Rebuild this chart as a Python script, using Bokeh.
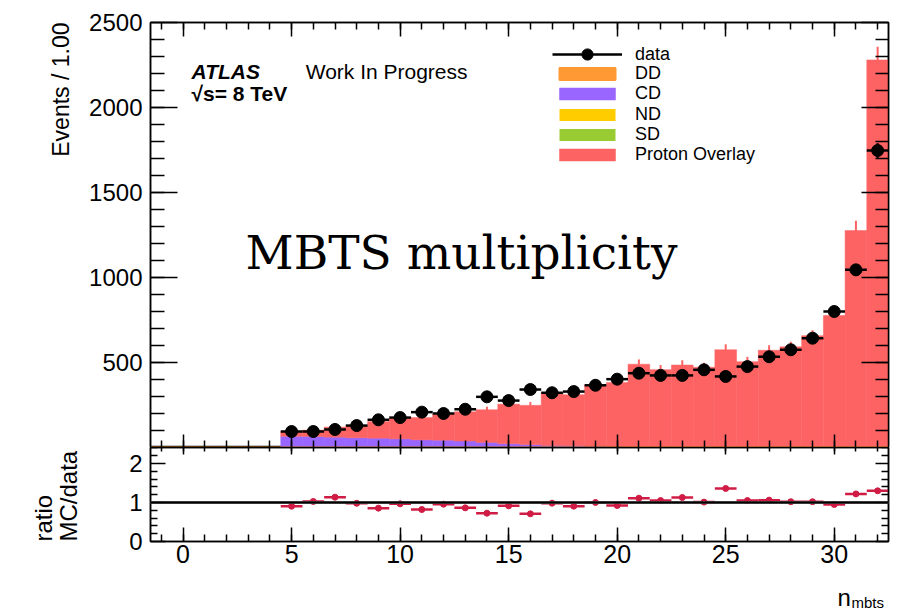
import numpy as np
from bokeh.plotting import figure
from bokeh.models import (Range1d, LinearAxis, FixedTicker, CustomJSTickFormatter,
                          Label, Legend, LegendItem, Span, BoxAnnotation, ColumnDataSource)
from bokeh.layouts import column, row
from bokeh.embed import file_html
from bokeh.resources import INLINE

# ---------------- data ----------------
bins = [5, 6, 7, 8, 9, 10, 11, 12, 13, 14, 15, 16, 17, 18, 19, 20,
        21, 22, 23, 24, 25, 26, 27, 28, 29, 30, 31, 32]
data_counts = [94, 94, 106, 129, 163, 176, 208, 200, 225, 298, 276, 341, 322, 329, 366, 402,
               437, 424, 424, 457, 418, 476, 534, 575, 643, 800, 1045, 1747]
data_err = [10, 10, 10, 11, 13, 13, 14, 14, 15, 17, 17, 18, 18, 18, 19, 20,
            21, 21, 21, 21, 20, 22, 23, 24, 25, 28, 32, 42]
mc_total = [96, 102, 120, 130, 152, 172, 176, 195, 210, 222, 255, 248, 322, 310, 368, 382,
            490, 458, 485, 472, 575, 505, 572, 592, 658, 776, 1276, 2280]
mc_err = [12, 12, 13, 14, 15, 16, 16, 17, 18, 18, 20, 20, 22, 22, 24, 24,
          28, 27, 28, 27, 32, 28, 30, 30, 32, 35, 58, 78]
cd_counts = [66, 65, 61, 57, 55, 51, 45, 43, 38, 30, 22, 17, 12, 10, 7, 5,
             3, 2, 2, 1, 1, 1, 0, 0, 0, 0, 0, 0]
ratio_vals = [0.905, 1.026, 1.136, 0.98, 0.855, 0.966, 0.82, 0.957, 0.863, 0.726, 0.915, 0.709,
              0.983, 0.906, 1.0, 0.923, 1.11, 1.05, 1.128, 1.01, 1.36, 1.05, 1.06, 1.02,
              1.02, 0.95, 1.22, 1.30]
ratio_err = [0.05, 0.05, 0.05, 0.05, 0.05, 0.04, 0.04, 0.04, 0.04, 0.04, 0.04, 0.04,
             0.03, 0.03, 0.03, 0.03, 0.03, 0.03, 0.03, 0.03, 0.04, 0.03, 0.03, 0.03,
             0.03, 0.02, 0.02, 0.02]
all_bins = [-1, 0, 1, 2, 3, 4, 5, 6, 7, 8, 9, 10, 11, 12, 13, 14, 15, 16, 17,
            18, 19, 20, 21, 22, 23, 24, 25, 26, 27, 28, 29, 30, 31, 32]
dd_counts = [0, 0, 0, 0, 0, 0, 0, 0, 0, 0, 0, 0, 0, 0, 0, 0, 0, 0, 0,
             0, 0, 0, 0, 0, 0, 0, 0, 0, 0, 0, 0, 0, 0, 0]
nd_counts = dd_counts
sd_counts = dd_counts

x_ticks = [0, 5, 10, 15, 20, 25, 30]
x_minor = list(range(-1, 33))
main_y_ticks = [500, 1000, 1500, 2000, 2500]
main_y_minor = list(range(100, 2500, 100))
ratio_y_ticks = [0, 1, 2]
ratio_y_minor = [0.2, 0.4, 0.6, 0.8, 1.2, 1.4, 1.6, 1.8, 2.2, 2.4]

legend_labels = ["data", "DD", "CD", "ND", "SD", "Proton Overlay"]

C_DD = "#ff9933"
C_CD = "#9966ff"
C_ND = "#ffcc00"
C_SD = "#99cc33"
C_PO = "#fd6363"
C_RATIO = "#d01c45"

FONT = "Liberation Sans"
LEFT_W = 86          # width of the strip holding the y-axis titles
AXIS_W = 64          # border left of each frame for the tick labels
FRAME_W = 738
RIGHT_W = 11
MAIN_TOP = 22
MAIN_H = 425
RATIO_H = 94
RATIO_BOTTOM = 36
BOTTOM_STRIP = 611 - (MAIN_TOP + MAIN_H + RATIO_H + RATIO_BOTTOM)
FRAME_X0 = LEFT_W + AXIS_W
RATIO_Y0 = MAIN_TOP + MAIN_H
LEGEND_X = 402                     # legend left edge, px from frame left
LEGEND_ROW_CENTERS = [54, 74.2, 94.4, 114.6, 134.8, 155]   # page px
LEGEND_FONT = 18
MID = 0.3465                       # baseline sits this many em below a "middle" anchor

# ---------------- sources ----------------
b = np.array(bins, dtype=float)
src = ColumnDataSource(dict(
    x=b, left=b - 0.5, right=b + 0.5,
    data=data_counts, dlo=np.array(data_counts) - np.array(data_err),
    dhi=np.array(data_counts) + np.array(data_err),
    cd=cd_counts, mc=mc_total,
    mlo=np.array(mc_total) - np.array(mc_err), mhi=np.array(mc_total) + np.array(mc_err),
    r=ratio_vals, rlo=np.array(ratio_vals) - np.array(ratio_err),
    rhi=np.array(ratio_vals) + np.array(ratio_err),
))
ab = np.array(all_bins, dtype=float)
zsrc = ColumnDataSource(dict(left=ab - 0.5, right=ab + 0.5, dd=dd_counts, nd=nd_counts, sd=sd_counts))

x_range = Range1d(-1.5, 32.5)
y_main = Range1d(0, 2500)


def px_to_main_y(py):
    """page pixel row -> main-panel data value"""
    return (RATIO_Y0 - py) * (y_main.end - y_main.start) / MAIN_H


def style_axis(ax, ticks, minor, major_in, minor_in, labels=True, size="25px", standoff=6):
    ax.ticker = FixedTicker(ticks=ticks, minor_ticks=minor)
    ax.major_tick_in = major_in
    ax.major_tick_out = 0
    ax.minor_tick_in = minor_in
    ax.minor_tick_out = 0
    ax.major_tick_line_width = 1.5
    ax.minor_tick_line_width = 1.5
    ax.major_tick_line_color = "black"
    ax.minor_tick_line_color = "black"
    ax.axis_line_width = 1.5
    ax.axis_line_color = "black"
    if labels:
        ax.major_label_text_font = FONT
        ax.major_label_text_font_size = size
        ax.major_label_text_color = "black"
        ax.major_label_standoff = standoff
    else:
        ax.formatter = CustomJSTickFormatter(code="return ''")
        ax.major_label_text_font_size = "0px"
        ax.major_label_standoff = 0


def text_strip(fw, fh, x0, y0, bl=0, br=0, bt=0, bb=0):
    """An axis-less figure whose frame coordinates equal page pixels."""
    f = figure(frame_width=fw, frame_height=fh, x_range=Range1d(x0, x0 + fw),
               y_range=Range1d(y0 + fh, y0), output_backend="svg", toolbar_location=None,
               title=None, x_axis_location=None, y_axis_location=None,
               min_border_left=bl, min_border_right=br, min_border_top=bt, min_border_bottom=bb,
               outline_line_color=None, background_fill_color="white", border_fill_color="white")
    f.grid.visible = False
    return f


# ---------------- main panel ----------------
p = figure(frame_width=FRAME_W, frame_height=MAIN_H, x_range=x_range, y_range=y_main,
           output_backend="svg", toolbar_location=None, title=None,
           min_border_left=AXIS_W, min_border_right=RIGHT_W, min_border_top=MAIN_TOP,
           min_border_bottom=0,
           outline_line_color="black", outline_line_width=1.5,
           background_fill_color="white", border_fill_color="white")
p.grid.visible = False

style_axis(p.yaxis[0], main_y_ticks, main_y_minor, 27, 14, labels=True, size="24px", standoff=8)
style_axis(p.xaxis[0], x_ticks, x_minor, 13, 7, labels=False)
ax_r = LinearAxis()
style_axis(ax_r, main_y_ticks, main_y_minor, 27, 13, labels=False)
p.add_layout(ax_r, "right")
ax_t = LinearAxis()
style_axis(ax_t, x_ticks, x_minor, 14, 7, labels=False)
p.add_layout(ax_t, "above")

r_nd = p.quad(left="left", right="right", bottom=0, top="nd", source=zsrc,
              fill_color=C_ND, line_color=None)
r_sd = p.quad(left="left", right="right", bottom=0, top="sd", source=zsrc,
              fill_color=C_SD, line_color=None)
r_cd = p.quad(left="left", right="right", bottom=0, top="cd", source=src,
              fill_color=C_CD, line_color=C_CD, line_width=0.5)
r_po = p.quad(left="left", right="right", bottom="cd", top="mc", source=src,
              fill_color=C_PO, line_color=C_PO, line_width=0.5)
p.segment(x0="x", y0="mlo", x1="x", y1="mhi", source=src, line_color=C_PO, line_width=2)
r_dd = p.quad(left="left", right="right", bottom=0, top="dd", source=zsrc,
              fill_color=C_DD, line_color=C_DD, line_width=2)

p.segment(x0="x", y0="dlo", x1="x", y1="dhi", source=src, line_color="black", line_width=2.5)
r_dh = p.segment(x0="left", y0="data", x1="right", y1="data", source=src,
                 line_color="black", line_width=2.5)
r_dp = p.scatter(x="x", y="data", source=src, size=12, fill_color="black", line_color="black")

# one Legend per row so that the rows sit exactly as tightly as in the original
legend_renderers = [[r_dh, r_dp], [r_dd], [r_cd], [r_nd], [r_sd], [r_po]]
for i, (lab, rends) in enumerate(zip(legend_labels, legend_renderers)):
    gh = 28 if i == 0 else 15
    row_h = max(gh, LEGEND_FONT * 1.117)
    loc_y = RATIO_Y0 - (LEGEND_ROW_CENTERS[i] + row_h / 2)
    p.add_layout(Legend(items=[LegendItem(label=lab, renderers=rends)],
                        location=(LEGEND_X, loc_y), glyph_width=70, glyph_height=gh,
                        label_height=15, spacing=0, padding=0, margin=0,
                        border_line_color=None, background_fill_alpha=0,
                        label_text_font=FONT, label_text_font_size=f"{LEGEND_FONT}px",
                        label_standoff=13, label_text_color="black",
                        label_text_baseline="middle"))

# texts placed by their baseline (page px); Bokeh anchors them at the middle
p.add_layout(Label(x=0.39, y=px_to_main_y(78 - MID * 21), text="ATLAS", text_font=FONT,
                   text_font_size="21px", text_color="black", text_font_style="bold italic",
                   text_baseline="middle"))
p.add_layout(Label(x=5.65, y=px_to_main_y(78 - MID * 21), text="Work In Progress", text_font=FONT,
                   text_color="black", text_font_size="21px", text_baseline="middle"))
p.add_layout(Label(x=0.39, y=px_to_main_y(100 - MID * 21), text="√s= 8 TeV", text_font=FONT,
                   text_font_size="21px", text_color="black", text_font_style="bold",
                   text_baseline="middle"))
p.add_layout(Label(x=2.88, y=px_to_main_y(268 - MID * 47), text="MBTS multiplicity",
                   text_font="DejaVu Serif", text_color="black", text_font_size="47px",
                   text_baseline="middle"))

left_main = text_strip(LEFT_W, MAIN_H, 0, MAIN_TOP, bt=MAIN_TOP)
left_main.add_layout(Label(x=60, y=MAIN_TOP, text="Events / 1.00", angle=np.pi / 2, text_font=FONT,
                           text_color="black", text_font_size="23px", text_align="right",
                           text_baseline="middle"))

# ---------------- ratio panel ----------------
q = figure(frame_width=FRAME_W, frame_height=RATIO_H, x_range=x_range, y_range=Range1d(0, 2.41),
           output_backend="svg", toolbar_location=None, title=None,
           min_border_left=AXIS_W, min_border_right=RIGHT_W, min_border_top=0,
           min_border_bottom=RATIO_BOTTOM,
           outline_line_color="black", outline_line_width=1.5,
           background_fill_color="white", border_fill_color="white")
q.grid.visible = False
style_axis(q.yaxis[0], ratio_y_ticks, ratio_y_minor, 15, 7, labels=True, size="24px", standoff=8)
style_axis(q.xaxis[0], x_ticks, x_minor, 14, 7, labels=True, size="25px", standoff=3)
qa_r = LinearAxis()
style_axis(qa_r, ratio_y_ticks, ratio_y_minor, 13, 7, labels=False)
q.add_layout(qa_r, "right")
qa_t = LinearAxis()
style_axis(qa_t, x_ticks, x_minor, 7, 4, labels=False)
q.add_layout(qa_t, "above")

q.add_layout(BoxAnnotation(bottom=0.96, top=1.04, fill_color="#dcdcdc", fill_alpha=0.7, line_color=None))
q.add_layout(Span(location=1, dimension="width", line_color="black", line_width=2.5))
q.segment(x0="left", y0="r", x1="right", y1="r", source=src, line_color=C_RATIO, line_width=2.5)
q.segment(x0="x", y0="rlo", x1="x", y1="rhi", source=src, line_color=C_RATIO, line_width=2.5)
q.scatter(x="x", y="r", source=src, size=6, fill_color=C_RATIO, line_color=C_RATIO)

left_ratio = text_strip(LEFT_W, RATIO_H, 0, RATIO_Y0, bb=RATIO_BOTTOM)
left_ratio.add_layout(Label(x=43, y=RATIO_Y0 + RATIO_H, text="ratio", angle=np.pi / 2,
                            text_font=FONT, text_color="black", text_font_size="24px",
                            text_align="left", text_baseline="middle"))
left_ratio.add_layout(Label(x=68, y=RATIO_Y0 + RATIO_H, text="MC/data", angle=np.pi / 2,
                            text_font=FONT, text_color="black", text_font_size="24px",
                            text_align="left", text_baseline="middle"))

# ---------------- bottom strip with the x-axis title ----------------
bottom = text_strip(FRAME_W, BOTTOM_STRIP, FRAME_X0, 611 - BOTTOM_STRIP,
                    bl=FRAME_X0, br=RIGHT_W)
bottom.add_layout(Label(x=837, y=605 - MID * 24, text="n", text_font=FONT, text_font_size="24px",
                        text_color="black", text_baseline="middle"))
bottom.add_layout(Label(x=851, y=607.5 - MID * 15, text="mbts", text_font=FONT,
                        text_font_size="15px", text_color="black", text_baseline="middle"))

layout = column(row(left_main, p, spacing=0), row(left_ratio, q, spacing=0), bottom, spacing=0)
open("out.html", "w").write(file_html(layout, INLINE))
